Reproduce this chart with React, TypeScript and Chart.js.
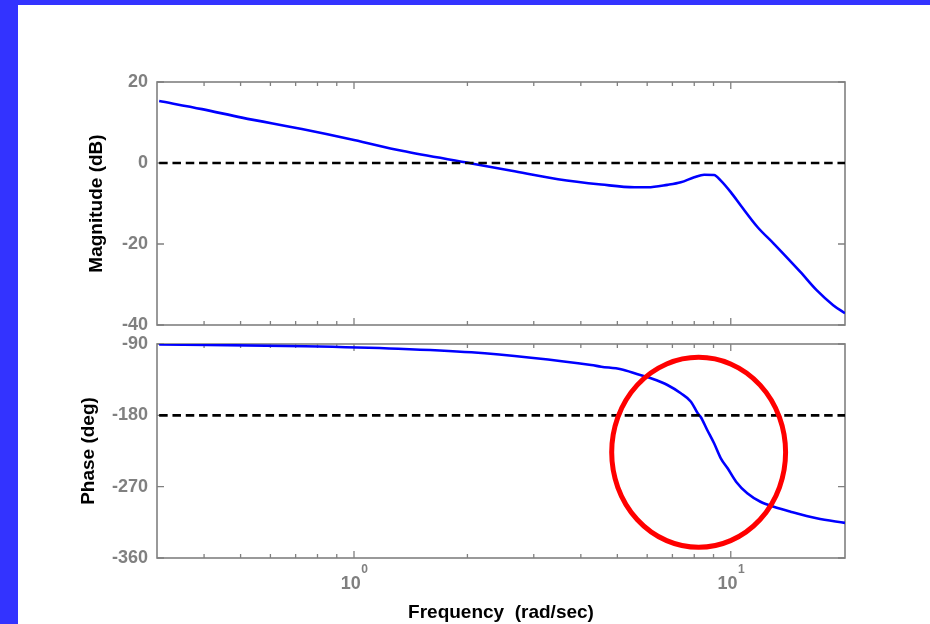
import React, { useEffect, useRef } from "react";
import { Chart, registerables } from "chart.js";

Chart.register(...registerables);

// ---- Data ----
const magFreq = [0.304, 0.395, 0.504, 0.727, 1.0, 1.34, 2.05, 2.62, 3.48, 4.53, 5.55, 6.02, 6.79, 7.37, 8.0, 8.5, 9.03, 9.41, 10.0, 10.63, 11.77, 13.0, 15.3, 16.9, 18.7, 20.1];
const magDb = [15.3, 13.3, 11.2, 8.4, 5.7, 3.0, -0.1, -1.9, -4.0, -5.3, -6.0, -6.0, -5.4, -4.77, -3.54, -2.9, -2.95, -4.35, -7.2, -10.5, -15.8, -19.9, -26.9, -31.4, -35.1, -37.1];

const phFreq = [0.304, 0.74, 1.31, 2.05, 2.95, 4.26, 4.53, 5.11, 5.66, 6.14, 6.79, 7.37, 7.84, 8.17, 8.33, 8.66, 9.03, 9.41, 9.81, 10.33, 11.06, 11.99, 13.0, 14.4, 16.9, 20.1];
const phDeg = [-90.5, -92.8, -95.9, -100.5, -107.3, -116.5, -118.6, -121.9, -128.2, -133.3, -141.7, -152.2, -162.8, -177.4, -182.4, -198.5, -215.3, -234.2, -246.8, -263.7, -278.3, -289, -295.3, -301.5, -309.9, -315.7];

const refFreq = [0.304, 20.1];
const magRef = [0, 0];
const phRef = [-180, -180];

const magTicks = [20, 0, -20, -40];
const phTicks = [-90, -180, -270, -360];
const xMajorTicks = [1, 10];
const xTickBase = ["10", "10"];
const xTickExponents = ["0", "1"];
const xMinorTicks = [0.4, 0.5, 0.6, 0.7, 0.8, 0.9, 2, 3, 4, 5, 6, 7, 8, 9];

// annotation ellipse bounds (data units)
const ellipseFreq = [4.83, 13.98];
const ellipsePhase = [-106.8, -346.5];

const X_MIN = 0.304;
const X_MAX = 20.1;

const FONT = '"Liberation Sans", Arial, sans-serif';
const GRAY = "#808080";

const framePlugin = {
  id: "frame",
  beforeDatasetsDraw(chart: any, _args: any, opts: any) {
    const { ctx, chartArea: ca } = chart;
    const xs = chart.scales.x;
    const ys = chart.scales.y;
    ctx.save();
    ctx.strokeStyle = GRAY;
    ctx.lineWidth = 1.6;
    ctx.strokeRect(ca.left, ca.top, ca.right - ca.left, ca.bottom - ca.top);
    ctx.lineWidth = 1.3;
    ctx.beginPath();
    const drawX = (v: number, len: number) => {
      const px = xs.getPixelForValue(v);
      ctx.moveTo(px, ca.bottom);
      ctx.lineTo(px, ca.bottom - len);
      ctx.moveTo(px, ca.top);
      ctx.lineTo(px, ca.top + len);
    };
    xMinorTicks.forEach((v) => drawX(v, 4));
    xMajorTicks.forEach((v) => drawX(v, 7));
    (opts.yTicks as number[]).forEach((v) => {
      const py = ys.getPixelForValue(v);
      ctx.moveTo(ca.left, py);
      ctx.lineTo(ca.left + 7, py);
      ctx.moveTo(ca.right, py);
      ctx.lineTo(ca.right - 7, py);
    });
    ctx.stroke();
    ctx.restore();
  },
};

const xLabelPlugin = {
  id: "xlabels",
  afterDraw(chart: any) {
    const { ctx, chartArea: ca } = chart;
    const xs = chart.scales.x;
    ctx.save();
    ctx.fillStyle = GRAY;
    ctx.textAlign = "left";
    ctx.textBaseline = "alphabetic";
    xMajorTicks.forEach((v, i) => {
      const px = xs.getPixelForValue(v);
      ctx.font = `bold 18px ${FONT}`;
      const w1 = ctx.measureText(xTickBase[i]).width;
      ctx.font = `bold 12px ${FONT}`;
      const w2 = ctx.measureText(xTickExponents[i]).width;
      const x0 = px - (w1 + w2) / 2;
      ctx.font = `bold 18px ${FONT}`;
      ctx.fillText(xTickBase[i], x0, ca.bottom + 31);
      ctx.font = `bold 12px ${FONT}`;
      ctx.fillText(xTickExponents[i], x0 + w1 + 0.5, ca.bottom + 15);
    });
    ctx.restore();
  },
};

const ellipsePlugin = {
  id: "ellipse",
  afterDraw(chart: any) {
    const { ctx } = chart;
    const xs = chart.scales.x;
    const ys = chart.scales.y;
    const x1 = xs.getPixelForValue(ellipseFreq[0]);
    const x2 = xs.getPixelForValue(ellipseFreq[1]);
    const y1 = ys.getPixelForValue(ellipsePhase[0]);
    const y2 = ys.getPixelForValue(ellipsePhase[1]);
    ctx.save();
    ctx.strokeStyle = "#ff0000";
    ctx.lineWidth = 5;
    ctx.beginPath();
    ctx.ellipse((x1 + x2) / 2, (y1 + y2) / 2, Math.abs(x2 - x1) / 2, Math.abs(y2 - y1) / 2, 0, 0, Math.PI * 2);
    ctx.stroke();
    ctx.restore();
  },
};

function yScale(min: number, max: number, step: number, title: string, titlePad: number) {
  return {
    min,
    max,
    ticks: {
      stepSize: step,
      color: GRAY,
      font: { family: FONT, size: 18, weight: "bold" },
      padding: 9,
    },
    grid: { display: false, drawTicks: false, tickLength: 0 },
    border: { display: false },
    title: {
      display: true,
      text: title,
      color: "#000",
      font: { family: FONT, size: 19, weight: "bold" },
      padding: { top: titlePad, bottom: 0 },
    },
    afterFit: (s: any) => {
      s.width = 157;
    },
  };
}

export default function App() {
  const c1 = useRef<HTMLCanvasElement>(null);
  const c2 = useRef<HTMLCanvasElement>(null);

  useEffect(() => {
    const mag = new Chart(c1.current as HTMLCanvasElement, {
      type: "line",
      data: {
        datasets: [
          {
            data: refFreq.map((f, i) => ({ x: f, y: magRef[i] })),
            borderColor: "#000",
            borderWidth: 2.6,
            borderDash: [8.5, 4.8],
            pointRadius: 0,
          },
          {
            data: magFreq.map((f, i) => ({ x: f, y: magDb[i] })),
            borderColor: "#0000ff",
            borderWidth: 2.6,
            pointRadius: 0,
            cubicInterpolationMode: "monotone",
          },
        ],
      },
      options: {
        responsive: false,
        animation: false,
        plugins: { legend: { display: false }, tooltip: { enabled: false }, frame: { yTicks: magTicks } } as any,
        layout: { padding: { left: 0, right: 85, top: 82, bottom: 299 } },
        scales: {
          x: { type: "logarithmic", min: X_MIN, max: X_MAX, display: false },
          y: yScale(-40, 20, 20, "Magnitude (dB)", 85) as any,
        },
      },
      plugins: [framePlugin],
    });

    const ph = new Chart(c2.current as HTMLCanvasElement, {
      type: "line",
      data: {
        datasets: [
          {
            data: refFreq.map((f, i) => ({ x: f, y: phRef[i] })),
            borderColor: "#000",
            borderWidth: 2.6,
            borderDash: [8.5, 4.8],
            pointRadius: 0,
          },
          {
            data: phFreq.map((f, i) => ({ x: f, y: phDeg[i] })),
            borderColor: "#0000ff",
            borderWidth: 2.6,
            pointRadius: 0,
            cubicInterpolationMode: "monotone",
          },
        ],
      },
      options: {
        responsive: false,
        animation: false,
        plugins: { legend: { display: false }, tooltip: { enabled: false }, frame: { yTicks: phTicks } } as any,
        layout: { padding: { left: 0, right: 85, top: 344, bottom: 0 } },
        scales: {
          x: {
            type: "logarithmic",
            min: X_MIN,
            max: X_MAX,
            ticks: { display: false },
            grid: { display: false, drawTicks: false },
            border: { display: false },
            title: {
              display: true,
              text: "Frequency  (rad/sec)",
              color: "#000",
              font: { family: FONT, size: 19, weight: "bold" },
              padding: { top: 0, bottom: 0 },
            },
            afterFit: (s: any) => {
              s.height = 66;
            },
          } as any,
          y: yScale(-360, -90, 90, "Phase (deg)", 77) as any,
        },
      },
      plugins: [framePlugin, xLabelPlugin, ellipsePlugin],
    });

    return () => {
      mag.destroy();
      ph.destroy();
    };
  }, []);

  return (
    <div style={{ position: "absolute", left: 0, top: 0, width: 930, height: 624, background: "#fff", overflow: "hidden" }}>
      <div style={{ position: "absolute", left: 0, top: 0, width: 930, height: 5, background: "#3333ff" }} />
      <div style={{ position: "absolute", left: 0, top: 0, width: 18, height: 624, background: "#3333ff" }} />
      <canvas ref={c1} width={930} height={624} style={{ position: "absolute", left: 0, top: 0 }} />
      <canvas ref={c2} width={930} height={624} style={{ position: "absolute", left: 0, top: 0 }} />
    </div>
  );
}
